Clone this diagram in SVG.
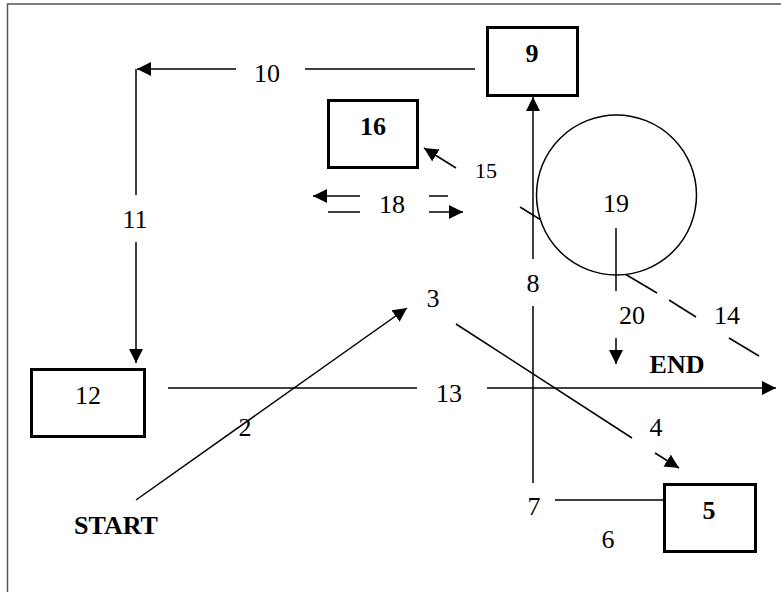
<svg xmlns="http://www.w3.org/2000/svg" width="781" height="592" viewBox="0 0 781 592">
<style>
.t{font-family:"Liberation Serif","Times New Roman",serif;font-size:26px;text-anchor:middle;fill:#000}
.b{font-weight:bold}
.s{font-size:22px}
.c{stroke:#000;stroke-width:1.5;fill:none}
.box{stroke:#000;stroke-width:3;fill:#fff}
</style>
<defs>
<marker id="ah" viewBox="0 0 14 14" markerWidth="14" markerHeight="14" refX="14" refY="7" orient="auto" markerUnits="userSpaceOnUse">
<path d="M0,0 L14,7 L0,14 z" fill="#000"/>
</marker>
</defs>
<rect width="781" height="592" fill="#fff"/>
<path d="M7.5,592 V4 H781" fill="none" stroke="#555" stroke-width="1.5"/>

<g id="connectors">
<line class="c" x1="475" y1="69" x2="305" y2="69"/>
<line class="c" x1="236" y1="69" x2="137" y2="69" marker-end="url(#ah)"/>
<line class="c" x1="136" y1="69" x2="136" y2="195"/>
<line class="c" x1="136" y1="242" x2="136" y2="363" marker-end="url(#ah)"/>
<line class="c" x1="533" y1="483" x2="533" y2="306"/>
<line class="c" x1="533" y1="259" x2="533" y2="97" marker-end="url(#ah)"/>
<line class="c" x1="456" y1="168" x2="424" y2="148" marker-end="url(#ah)"/>
<line class="c" x1="360" y1="196" x2="313" y2="196" marker-end="url(#ah)"/>
<line class="c" x1="328" y1="212" x2="360" y2="212"/>
<line class="c" x1="429" y1="196" x2="448" y2="196"/>
<line class="c" x1="429" y1="212" x2="463" y2="212" marker-end="url(#ah)"/>
<line class="c" x1="520" y1="207" x2="541" y2="220"/>
<line class="c" x1="625" y1="274" x2="657" y2="293"/>
<line class="c" x1="669" y1="300" x2="696" y2="317"/>
<line class="c" x1="729" y1="338" x2="759" y2="356"/>
<line class="c" x1="136" y1="500" x2="407" y2="308" marker-end="url(#ah)"/>
<line class="c" x1="456" y1="324" x2="632" y2="438"/>
<line class="c" x1="655" y1="453" x2="679" y2="468" marker-end="url(#ah)"/>
<line class="c" x1="555" y1="500" x2="663" y2="500"/>
<line class="c" x1="168" y1="388" x2="417" y2="388"/>
<line class="c" x1="487" y1="388" x2="776" y2="388" marker-end="url(#ah)"/>
</g>

<g id="node19">
<circle cx="616.5" cy="195" r="80" fill="#fff" stroke="#000" stroke-width="1.5"/>
<text class="t" x="616" y="212">19</text>
</g>
<g id="connector20">
<line class="c" x1="616" y1="228" x2="616" y2="291"/>
<line class="c" x1="616" y1="338" x2="616" y2="364" marker-end="url(#ah)"/>
</g>

<g id="node9"><rect class="box" x="487.5" y="27.5" width="90" height="68"/><text class="t b" x="532" y="62">9</text></g>
<g id="node16"><rect class="box" x="328.5" y="100.5" width="89" height="67"/><text class="t b" x="373" y="135">16</text></g>
<g id="node5"><rect class="box" x="664.5" y="484.5" width="91" height="67"/><text class="t b" x="709" y="519">5</text></g>
<g id="node12"><rect class="box" x="31.5" y="369.5" width="113" height="67"/><text class="t" x="88" y="404">12</text></g>

<g id="labels">
<text class="t" x="267" y="82">10</text>
<text class="t" x="135" y="228">11</text>
<text class="t s" x="486" y="178">15</text>
<text class="t" x="392" y="213">18</text>
<text class="t" x="533" y="292">8</text>
<text class="t" x="632" y="324">20</text>
<text class="t" x="727" y="324">14</text>
<text class="t" x="433" y="307">3</text>
<text class="t b" x="677" y="373">END</text>
<text class="t" x="449" y="402">13</text>
<text class="t" x="245" y="436">2</text>
<text class="t" x="656" y="436">4</text>
<text class="t b" x="116" y="534">START</text>
<text class="t" x="534" y="515">7</text>
<text class="t" x="608" y="548">6</text>
</g>
</svg>
